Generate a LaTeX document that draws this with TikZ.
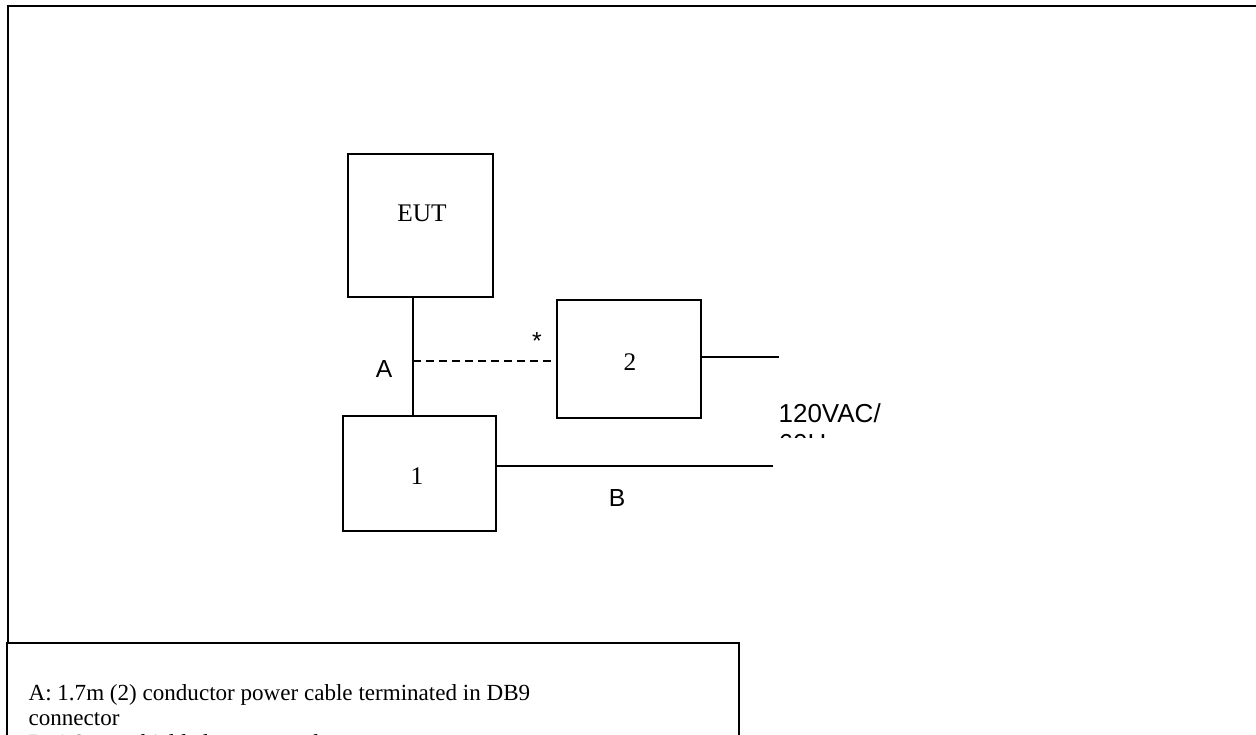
\documentclass[tikz,border=0pt]{standalone}
\usepackage{fontspec}
\setmainfont{Liberation Serif}
\newfontfamily\arialfont{Liberation Sans}
\usetikzlibrary{positioning}

\begin{document}
\begin{tikzpicture}[x=0.75pt, y=-0.75pt, line width=0.9pt,
  unitbox/.style={draw, line width=1.1pt, inner sep=0pt},
  boxtext/.style={font=\fontsize{19}{19}\selectfont},
  cabletext/.style={font=\arialfont\fontsize{18.5}{18.5}\selectfont}]
  \useasboundingbox (0,0) rectangle (1256,735);
  % outer frame, runs off the page on the right and bottom
  \draw[line width=1.5pt] (8,760) -- (8,6) -- (1270,6);
  % units
  \node[unitbox, minimum width=108.75pt, minimum height=107.25pt] (eut) at (420.5,225.5) {};
  \node[boxtext] at (422,213) {EUT};
  \node[unitbox, minimum width=114.75pt, minimum height=86.25pt] (one) at (419.5,473.5) {};
  \node[boxtext] at (417,476) {1};
  \node[unitbox, minimum width=108pt, minimum height=88.5pt] (two) at (629,359) {};
  \node[boxtext] at (630,362) {2};
  % cables
  \coordinate (tap) at (413,361);
  \coordinate (mainsEnd) at (779,357);
  \coordinate (bEnd) at (773,466);
  \draw (eut.south -| tap) -- (one.north -| tap);
  \draw[dash pattern=on 6pt off 3.75pt] (tap) -- (two.west |- tap);
  \draw (two.east |- mainsEnd) -- (mainsEnd);
  \draw (one.east |- bEnd) -- (bEnd);
  \node[cabletext] (cableA) at (384,369) {A};
  \node[cabletext] (star) at (537,341) {*};
  \node[cabletext] (cableB) at (617,498) {B};
  \begin{scope}
    \clip (770,390) rectangle (900,437);
    \node[font=\arialfont\fontsize{19.5}{22.4}\selectfont, anchor=base west,
      inner sep=0pt, align=left] (mains) at (778,452) {120VAC/\\60Hz};
  \end{scope}
  % legend
  \draw[fill=white, line width=0.9pt] (7,643) rectangle (739,760);
  \begin{scope}
    \clip (7,643) rectangle (739,735);
    \node[anchor=north west, inner sep=0pt, align=left,
      font=\fontsize{17.3}{18.6}\selectfont] (legend) at (28,684)
      {A: 1.7m (2) conductor power cable terminated in DB9\\
       connector\\
       B: 1.8m unshielded power cord};
  \end{scope}
\end{tikzpicture}
\end{document}
